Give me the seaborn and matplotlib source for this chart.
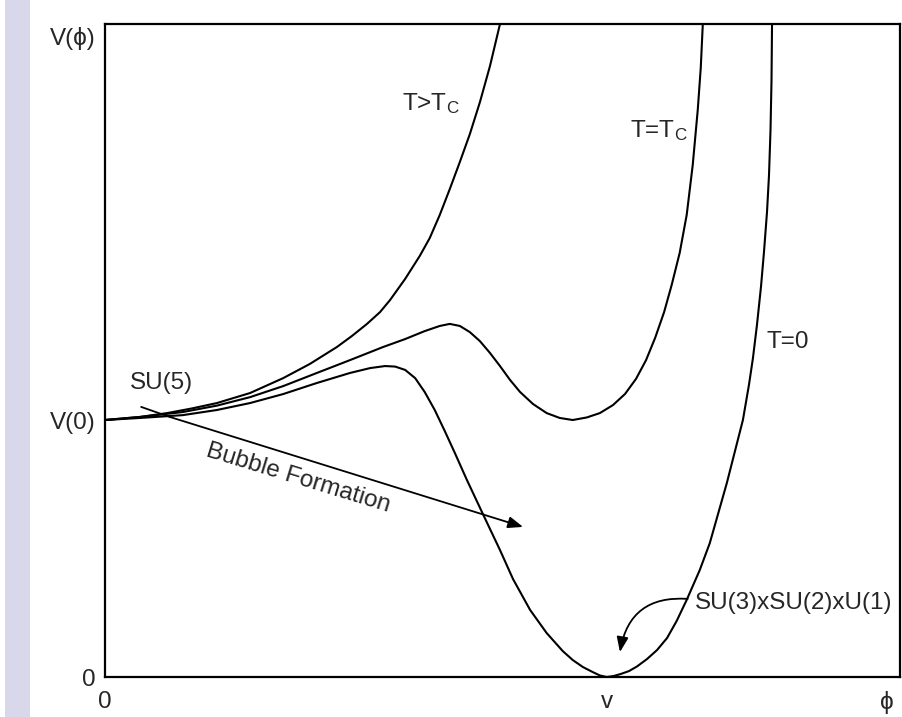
import numpy as np
import pandas as pd
import matplotlib
matplotlib.use("Agg")
import matplotlib.pyplot as plt
import seaborn as sns
from matplotlib.patches import FancyArrowPatch, Rectangle

# ---- data (phi in units of v, V in units of V(0)) ----
phi_t0 = [0.000, 0.070, 0.155, 0.223, 0.289, 0.355, 0.422, 0.488, 0.528, 0.558, 0.578,
          0.598, 0.618, 0.637, 0.657, 0.677, 0.697, 0.721, 0.753, 0.787, 0.813, 0.847,
          0.880, 0.912, 0.932, 0.952, 0.972, 0.986, 1.000, 1.014, 1.028, 1.044, 1.060,
          1.080, 1.100, 1.120, 1.139, 1.159, 1.185, 1.205, 1.239, 1.271, 1.283, 1.291,
          1.299, 1.307, 1.313, 1.319, 1.323, 1.326, 1.328, 1.329]
V_t0 = [1.000, 1.008, 1.019, 1.039, 1.066, 1.101, 1.144, 1.183, 1.202, 1.210, 1.208,
        1.195, 1.163, 1.109, 1.039, 0.957, 0.872, 0.767, 0.634, 0.494, 0.381, 0.261,
        0.171, 0.101, 0.066, 0.039, 0.019, 0.006, 0.000, 0.004, 0.012, 0.023, 0.041,
        0.070, 0.105, 0.152, 0.218, 0.300, 0.416, 0.521, 0.755, 1.000, 1.136, 1.241,
        1.370, 1.518, 1.654, 1.809, 1.953, 2.128, 2.323, 2.537]

phi_tc = [0.000, 0.070, 0.155, 0.223, 0.289, 0.355, 0.422, 0.488, 0.554, 0.598, 0.637,
          0.667, 0.687, 0.707, 0.727, 0.747, 0.767, 0.787, 0.807, 0.827, 0.853, 0.880,
          0.906, 0.932, 0.960, 0.986, 1.012, 1.036, 1.058, 1.078, 1.096, 1.114, 1.129,
          1.145, 1.159, 1.171, 1.181, 1.187, 1.191]
V_tc = [1.000, 1.012, 1.031, 1.056, 1.089, 1.132, 1.183, 1.233, 1.284, 1.315, 1.346,
        1.366, 1.374, 1.366, 1.342, 1.307, 1.261, 1.210, 1.156, 1.109, 1.062, 1.027,
        1.008, 1.000, 1.010, 1.027, 1.058, 1.101, 1.160, 1.233, 1.319, 1.420, 1.525,
        1.650, 1.798, 1.992, 2.206, 2.370, 2.537]

phi_hot = [0.000, 0.070, 0.124, 0.173, 0.223, 0.289, 0.355, 0.408, 0.462, 0.492, 0.522,
           0.548, 0.568, 0.598, 0.627, 0.647, 0.667, 0.687, 0.707, 0.727, 0.747, 0.767,
           0.787]
V_hot = [1.000, 1.012, 1.027, 1.045, 1.066, 1.105, 1.163, 1.218, 1.284, 1.327, 1.374,
         1.420, 1.467, 1.549, 1.638, 1.708, 1.798, 1.899, 2.004, 2.113, 2.237, 2.377,
         2.541]

curve_names = ["T=0", "T=Tc", "T>Tc"]
xtick_pos = [0, 1, 1.558]
xtick_labels = ["0", "v", "ϕ"]
ytick_pos = [0, 1, 2.494]
ytick_labels = ["0", "V(0)", "V(ϕ)"]

frames = []
for name, xs, ys in zip(curve_names, [phi_t0, phi_tc, phi_hot], [V_t0, V_tc, V_hot]):
    frames.append(pd.DataFrame({"curve": name, "phi": xs, "V": ys}))
df = pd.concat(frames, ignore_index=True)

sns.set_theme(style="white")
plt.rcParams["font.family"] = ["Liberation Sans", "DejaVu Sans"]
plt.rcParams["mathtext.fontset"] = "custom"
plt.rcParams["mathtext.rm"] = "Liberation Sans"
plt.rcParams["mathtext.it"] = "Liberation Sans"

fig = plt.figure(figsize=(9.02, 7.17), dpi=100)
fig.patch.set_facecolor("white")
fig.patches.append(Rectangle((5 / 902, 0), 25 / 902, 1, transform=fig.transFigure,
                             facecolor="#d9d8ea", edgecolor="none", zorder=0))
ax = fig.add_axes([105 / 902, 40 / 717, 795 / 902, 653 / 717])

sns.lineplot(data=df, x="phi", y="V", units="curve", estimator=None, sort=False,
             color="black", linewidth=1.5, ax=ax, legend=False)

ax.set_xlim(0, 1.584)
ax.set_ylim(0, 2.541)
ax.set_xlabel("")
ax.set_ylabel("")
for s in ax.spines.values():
    s.set_color("black")
    s.set_linewidth(1.6)

fs = 17.5
ax.set_xticks(xtick_pos)
ax.set_xticklabels(xtick_labels, fontsize=fs)
ax.set_yticks(ytick_pos)
ax.set_yticklabels(ytick_labels, fontsize=fs)
ax.tick_params(axis="x", which="major", length=0, pad=10)
ax.tick_params(axis="y", which="major", length=0, pad=7)
ax.set_xticks([1], minor=True)
ax.tick_params(axis="x", which="minor", direction="in", length=11, width=1.3,
               color="black", bottom=True)

# labels
ax.text(0.592, 2.233, "T>T$_\\mathrm{C}$", fontsize=fs, va="center", ha="left")
ax.text(1.046, 2.128, "T=T$_\\mathrm{C}$", fontsize=fs, va="center", ha="left")
ax.text(1.319, 1.304, "T=0", fontsize=fs, va="center", ha="left")
ax.text(0.050, 1.144, "SU(5)", fontsize=fs, va="center", ha="left")
ax.text(1.175, 0.288, "SU(3)xSU(2)xU(1)", fontsize=fs, va="center", ha="left")
ax.text(0.384, 0.774, "Bubble Formation", fontsize=fs, va="center", ha="center",
        rotation=-17, rotation_mode="anchor")

# SU(5) pointer and bubble-formation arrow
ax.plot([0.072, 0.129], [1.051, 1.012], color="black", lw=1.3)
ax.add_patch(FancyArrowPatch((0.129, 1.012), (0.833, 0.584),
                             arrowstyle="-|>,head_length=9,head_width=3.5",
                             color="black", lw=1.3, shrinkA=0, shrinkB=0))
ax.add_patch(FancyArrowPatch((1.161, 0.304), (1.026, 0.097),
                             connectionstyle="arc3,rad=0.45",
                             arrowstyle="-|>,head_length=9,head_width=3.5",
                             color="black", lw=1.3, shrinkA=0, shrinkB=0))

fig.savefig("out.png", dpi=100, facecolor="white")
